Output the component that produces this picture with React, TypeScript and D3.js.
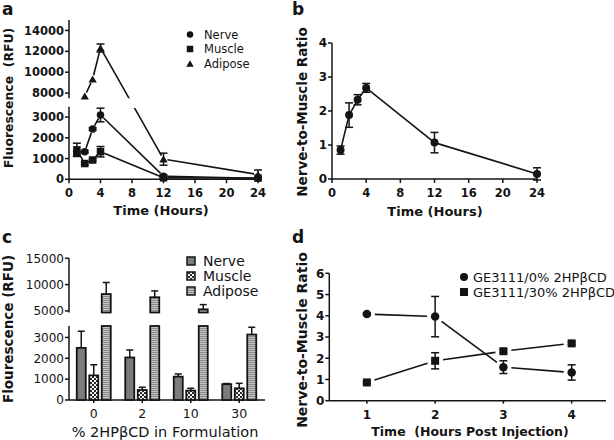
import React from 'react';
import * as d3 from 'd3';

const FONT = '"DejaVu Sans", sans-serif';
const INK = '#141414';

// panel a: fluorescence over time
const hoursA = [1, 2, 3, 4, 12, 24];
const nerveA = [1250, 1330, 2420, 3100, 150, 50];
const nerveErrA = [90, 60, 60, 330, 60, 30];
const muscleA = [1420, 760, 930, 1330, 70, 60];
const muscleErrA = [320, 60, 60, 250, 40, 40];
const hoursAdipose = [2, 3, 4, 12, 24];
const adiposeA = [7700, 9330, 12320, 970, 230];
const adiposeErrA = [0, 0, 380, 290, 220];
const ticksALow = [0, 1000, 2000, 3000];
const ticksAHigh = [8000, 10000, 12000, 14000];
const ticksHours = [0, 4, 8, 12, 16, 20, 24];
const legendA = ['Nerve', 'Muscle', 'Adipose'];

// panel b: nerve-to-muscle ratio
const hoursB = [1, 2, 3, 4, 12, 24];
const ratioB = [0.85, 1.88, 2.33, 2.68, 1.07, 0.15];
const ratioErrB = [0.12, 0.36, 0.15, 0.13, 0.3, 0.18];
const ticksB = [0, 1, 2, 3, 4];

// panel c: formulation bars
const formulations = ['0', '2', '10', '30'];
const tissues = ['Nerve', 'Muscle', 'Adipose'];
const nerveC = [2500, 2040, 1120, 760];
const nerveErrC = [800, 360, 130, 30];
const muscleC = [1180, 480, 450, 560];
const muscleErrC = [510, 130, 110, 240];
const adiposeC = [8200, 7600, 5300, 3140];
const adiposeErrC = [2200, 1200, 900, 350];
const ticksCLow = [0, 1000, 2000, 3000];
const ticksCHigh = [5000, 10000, 15000];

// panel d: ratio by formulation
const hoursD = [1, 2, 3, 4];
const ratio0 = [4.08, 3.96, 1.58, 1.33];
const ratio0Err = [0.05, 0.95, 0.3, 0.36];
const ratio30 = [0.86, 1.88, 2.33, 2.7];
const ratio30Err = [0.05, 0.38, 0.08, 0.06];
const ticksD = [0, 1, 2, 3, 4, 5, 6];
const legendD = ['GE3111/0% 2HP\u03B2CD', 'GE3111/30% 2HP\u03B2CD'];

// scales
const xA = d3.scaleLinear().domain([0, 24]).range([69, 258]);
const yALow = d3.scaleLinear().domain([0, 3500]).range([179.3, 106.7]);
const yAHigh = d3.scaleLinear().domain([7500, 15000]).range([98.3, 20]);
const yA = (v: number) => (v > 3500 ? yAHigh(v) : yALow(v));

const xB = d3.scaleLinear().domain([0, 24]).range([332, 537]);
const yB = d3.scaleLinear().domain([0, 4]).range([179, 43]);

const xC = d3.scaleBand().domain(formulations).range([69.5, 263.5]);
const xCInner = d3.scaleBand().domain(tissues).range([-18.75, 18.75]);
const yCLow = d3.scaleLinear().domain([0, 3550]).range([400, 326]);
const yCHigh = d3.scaleLinear().domain([4700, 15000]).range([312.5, 258.3]);

const xD = d3.scaleLinear().domain([0.45, 4.5]).range([329.3, 605.8]);
const yD = d3.scaleLinear().domain([0, 6]).range([400.7, 273.3]);

const triangle = d3.symbol().type(d3.symbolTriangle).size(30)()!;
const triangleSmall = d3.symbol().type(d3.symbolTriangle).size(24)()!;

// line segments between points, pulled back from each marker by gap px
function segments(pts: [number, number][], gap: number) {
  const out: string[] = [];
  for (let i = 0; i < pts.length - 1; i++) {
    const [x1, y1] = pts[i];
    const [x2, y2] = pts[i + 1];
    const len = Math.hypot(x2 - x1, y2 - y1);
    if (len <= gap * 2) continue;
    const ux = (x2 - x1) / len, uy = (y2 - y1) / len;
    out.push(`M${x1 + ux * gap},${y1 + uy * gap}L${x2 - ux * gap},${y2 - uy * gap}`);
  }
  return out.join('');
}

function ErrBar({ x, y1, y2, cap = 8, both = true }: any) {
  return (
    <g stroke={INK} strokeWidth={1.5}>
      <line x1={x} x2={x} y1={y1} y2={y2} />
      <line x1={x - cap / 2} x2={x + cap / 2} y1={y1} y2={y1} />
      {both && <line x1={x - cap / 2} x2={x + cap / 2} y1={y2} y2={y2} />}
    </g>
  );
}

function Marker({ kind, x, y, s = 8 }: any) {
  if (kind === 'circle') return <circle cx={x} cy={y} r={s / 2} fill={INK} />;
  if (kind === 'square') return <rect x={x - s / 2} y={y - s / 2} width={s} height={s} fill={INK} />;
  return <path d={s < 8 ? triangleSmall : triangle} transform={`translate(${x},${y + 1})`} fill={INK} />;
}

function YTicks({ ticks, scale, x, bold = true, size = 11.5, fmt = (d: number) => String(d) }: any) {
  return (
    <g>
      {ticks.map((t: number) => (
        <g key={t}>
          <line x1={x - 4} x2={x} y1={scale(t)} y2={scale(t)} stroke={INK} strokeWidth={1.5} />
          <text x={x - 5} y={scale(t) + size * 0.36} textAnchor="end" fontSize={size}
            fontWeight={bold ? 'bold' : 'normal'}>{fmt(t)}</text>
        </g>
      ))}
    </g>
  );
}

function XTicks({ ticks, pos, y, labels, bold = true, size = 11.5, len = 4 }: any) {
  return (
    <g>
      {ticks.map((t: any, i: number) => (
        <g key={String(t)}>
          <line x1={pos(t)} x2={pos(t)} y1={y} y2={y + len} stroke={INK} strokeWidth={1.5} />
          <text x={pos(t)} y={y + 18} textAnchor="middle" fontSize={size}
            fontWeight={bold ? 'bold' : 'normal'}>{labels ? labels[i] : t}</text>
        </g>
      ))}
    </g>
  );
}

function PanelA() {
  const nervePts = hoursA.map((h, i) => [xA(h), yA(nerveA[i])] as [number, number]);
  const musclePts = hoursA.map((h, i) => [xA(h), yA(muscleA[i])] as [number, number]);
  const adiposePts = hoursAdipose.map((h, i) => [xA(h), yA(adiposeA[i])] as [number, number]);
  return (
    <g>
      <defs>
        <clipPath id="clipA">
          <rect x={60} y={0} width={220} height={98.3} />
          <rect x={60} y={108} width={220} height={90} />
        </clipPath>
      </defs>
      <text x={2} y={15} fontSize={17} fontWeight="bold">a</text>
      <text transform={`translate(13,98) rotate(-90)`} textAnchor="middle" fontSize={12.4} fontWeight="bold">
        Fluorescence {'\u00A0'}(RFU)
      </text>
      <line x1={69} x2={69} y1={yALow(0)} y2={yALow(3500)} stroke={INK} strokeWidth={1.5} />
      <line x1={69} x2={69} y1={yAHigh(7500)} y2={yAHigh(15000)} stroke={INK} strokeWidth={1.5} />
      <YTicks ticks={ticksALow} scale={yALow} x={69} />
      <YTicks ticks={ticksAHigh} scale={yAHigh} x={69} />
      <line x1={69} x2={258} y1={yALow(0)} y2={yALow(0)} stroke={INK} strokeWidth={1.5} />
      <XTicks ticks={ticksHours} pos={xA} y={yALow(0)} />
      <text x={161} y={215} textAnchor="middle" fontSize={13} fontWeight="bold">Time (Hours)</text>

      <g clipPath="url(#clipA)" fill="none" stroke={INK} strokeWidth={1.6}>
        <path d={segments(nervePts, 4)} />
        <path d={segments(musclePts, 4)} />
        <path d={segments(adiposePts, 4)} />
      </g>
      {hoursA.map((h, i) => (
        <ErrBar key={'ne' + h} x={xA(h)} y1={yA(nerveA[i] + nerveErrA[i])} y2={yA(nerveA[i] - nerveErrA[i])} />
      ))}
      {hoursA.map((h, i) => (
        <ErrBar key={'me' + h} x={xA(h)} y1={yA(muscleA[i] + muscleErrA[i])} y2={yA(Math.max(0, muscleA[i] - muscleErrA[i]))} />
      ))}
      {hoursAdipose.map((h, i) => adiposeErrA[i] > 0 && (
        <ErrBar key={'ae' + h} x={xA(h)} y1={yA(adiposeA[i] + adiposeErrA[i])} y2={yA(Math.max(0, adiposeA[i] - adiposeErrA[i]))} />
      ))}
      {adiposePts.map(([x, y], i) => <Marker key={'am' + i} kind="triangle" x={x} y={y} />)}
      {nervePts.map(([x, y], i) => <Marker key={'nm' + i} kind="circle" x={x} y={y} s={7.5} />)}
      {musclePts.map(([x, y], i) => <Marker key={'mm' + i} kind="square" x={x} y={y} s={7.5} />)}

      {legendA.map((name, i) => (
        <g key={name}>
          <Marker kind={['circle', 'square', 'triangle'][i]} x={190} y={34.5 + i * 14.5} s={6.5} />
          <text x={204} y={38.8 + i * 14.5} fontSize={11.5}>{name}</text>
        </g>
      ))}
    </g>
  );
}

function PanelB() {
  const pts = hoursB.map((h, i) => [xB(h), yB(ratioB[i])] as [number, number]);
  return (
    <g>
      <text x={292} y={15} fontSize={17} fontWeight="bold">b</text>
      <text transform={`translate(307,112) rotate(-90)`} textAnchor="middle" fontSize={13.5} fontWeight="bold">
        Nerve-to-Muscle Ratio
      </text>
      <line x1={332} x2={332} y1={yB(0)} y2={yB(4)} stroke={INK} strokeWidth={1.5} />
      <YTicks ticks={ticksB} scale={yB} x={332} size={12} />
      <line x1={332} x2={537} y1={yB(0)} y2={yB(0)} stroke={INK} strokeWidth={1.5} />
      <XTicks ticks={ticksHours} pos={xB} y={yB(0)} />
      <text x={435} y={216} textAnchor="middle" fontSize={13} fontWeight="bold">Time (Hours)</text>
      <path d={segments(pts, 0)} fill="none" stroke={INK} strokeWidth={1.6} />
      {hoursB.map((h, i) => (
        <ErrBar key={h} x={xB(h)} y1={yB(ratioB[i] + ratioErrB[i])} y2={yB(ratioB[i] - ratioErrB[i])} />
      ))}
      {pts.map(([x, y], i) => <Marker key={i} kind="circle" x={x} y={y} />)}
    </g>
  );
}

const fills: Record<string, string> = { Nerve: '#7c7c7c', Muscle: 'url(#checker)', Adipose: 'url(#stripes)' };

function PanelC() {
  const values: Record<string, number[]> = { Nerve: nerveC, Muscle: muscleC, Adipose: adiposeC };
  const errs: Record<string, number[]> = { Nerve: nerveErrC, Muscle: muscleErrC, Adipose: adiposeErrC };
  const barW = 9;
  const yC = (v: number) => (v > 3550 ? yCHigh(v) : yCLow(v));
  return (
    <g>
      <defs>
        <pattern id="checker" width={4} height={4} patternUnits="userSpaceOnUse">
          <rect width={4} height={4} fill="#f4f4f4" />
          <rect width={2} height={2} fill="#2a2a2a" />
          <rect x={2} y={2} width={2} height={2} fill="#2a2a2a" />
        </pattern>
        <pattern id="stripes" width={4} height={2} patternUnits="userSpaceOnUse">
          <rect width={4} height={2} fill="#c4c4c4" />
          <rect width={4} height={1} fill="#8a8a8a" />
        </pattern>
      </defs>
      <text x={2} y={243} fontSize={17} fontWeight="bold">c</text>
      <text transform={`translate(13,329) rotate(-90)`} textAnchor="middle" fontSize={13.5} fontWeight="bold">
        Flourescence (RFU)
      </text>
      <line x1={69} x2={69} y1={yCLow(0)} y2={yCLow(3550)} stroke={INK} strokeWidth={1.5} />
      <line x1={69} x2={69} y1={yCHigh(4700)} y2={yCHigh(15000)} stroke={INK} strokeWidth={1.5} />
      <YTicks ticks={ticksCLow} scale={yCLow} x={69} bold={false} size={12} />
      <YTicks ticks={ticksCHigh} scale={yCHigh} x={69} bold={false} size={12} />
      <line x1={69} x2={265} y1={400} y2={400} stroke={INK} strokeWidth={1.5} />
      <XTicks ticks={formulations} pos={(f: string) => xC(f)! + xC.bandwidth() / 2} y={400}
        bold={false} size={12.5} len={3} />
      <text x={165} y={437} textAnchor="middle" fontSize={14.5}>% 2HP{'\u03B2'}CD in Formulation</text>

      {formulations.map((f, fi) => tissues.map((t) => {
        const cx = xC(f)! + xC.bandwidth() / 2 + xCInner(t)! + xCInner.bandwidth() / 2;
        const v = values[t][fi];
        const e = errs[t][fi];
        const x = cx - barW / 2;
        const parts: [number, number][] = v > 3550
          ? [[yCLow(3550), yCLow(0)], [yC(v), yCHigh(4700)]]
          : [[yC(v), yCLow(0)]];
        return (
          <g key={f + t}>
            <ErrBar x={cx} y1={yC(v + e)} y2={yC(v)} cap={7} both={false} />
            {parts.map(([top, bot], k) => (
              <rect key={k} x={x} y={top} width={barW} height={bot - top} fill={fills[t]}
                stroke={INK} strokeWidth={1.8} />
            ))}
          </g>
        );
      }))}

      {tissues.map((t, i) => (
        <g key={t}>
          <rect x={187} y={257 + i * 15} width={8} height={8} fill={fills[t]} stroke={INK} strokeWidth={1.5} />
          <text x={203} y={266 + i * 15} fontSize={14}>{t}</text>
        </g>
      ))}
    </g>
  );
}

function PanelD() {
  const pts0 = hoursD.map((h, i) => [xD(h), yD(ratio0[i])] as [number, number]);
  const pts30 = hoursD.map((h, i) => [xD(h), yD(ratio30[i])] as [number, number]);
  return (
    <g>
      <text x={292} y={243} fontSize={17} fontWeight="bold">d</text>
      <text transform={`translate(307,340) rotate(-90)`} textAnchor="middle" fontSize={14} fontWeight="bold">
        Nerve-to-Muscle Ratio
      </text>
      <line x1={329.3} x2={329.3} y1={yD(0)} y2={yD(6)} stroke={INK} strokeWidth={1.5} />
      <YTicks ticks={ticksD} scale={yD} x={329.3} size={12} />
      <line x1={329.3} x2={606} y1={yD(0)} y2={yD(0)} stroke={INK} strokeWidth={1.5} />
      <XTicks ticks={hoursD} pos={xD} y={yD(0)} size={12} len={3} />
      <text x={470} y={436} textAnchor="middle" fontSize={12.5} fontWeight="bold">
        Time {'\u00A0'}(Hours Post Injection)
      </text>
      <g fill="none" stroke={INK} strokeWidth={1.6}>
        <path d={segments(pts0, 8)} />
        <path d={segments(pts30, 8)} />
      </g>
      {hoursD.map((h, i) => (
        <ErrBar key={'a' + h} x={xD(h)} y1={yD(ratio0[i] + ratio0Err[i])} y2={yD(ratio0[i] - ratio0Err[i])} />
      ))}
      {hoursD.map((h, i) => (
        <ErrBar key={'b' + h} x={xD(h)} y1={yD(ratio30[i] + ratio30Err[i])} y2={yD(ratio30[i] - ratio30Err[i])} />
      ))}
      {pts0.map(([x, y], i) => <Marker key={'c' + i} kind="circle" x={x} y={y} s={8.5} />)}
      {pts30.map(([x, y], i) => <Marker key={'s' + i} kind="square" x={x} y={y} s={8} />)}
      {legendD.map((name, i) => (
        <g key={name}>
          <Marker kind={i === 0 ? 'circle' : 'square'} x={464} y={277 + i * 15} s={8} />
          <text x={473} y={281.5 + i * 15} fontSize={13}>{name}</text>
        </g>
      ))}
    </g>
  );
}

export default function App() {
  return (
    <svg width={614} height={440} style={{ position: 'absolute', left: 0, top: 0, background: '#fff' }}
      fontFamily={FONT} fill={INK}>
      <PanelA />
      <PanelB />
      <PanelC />
      <PanelD />
    </svg>
  );
}
